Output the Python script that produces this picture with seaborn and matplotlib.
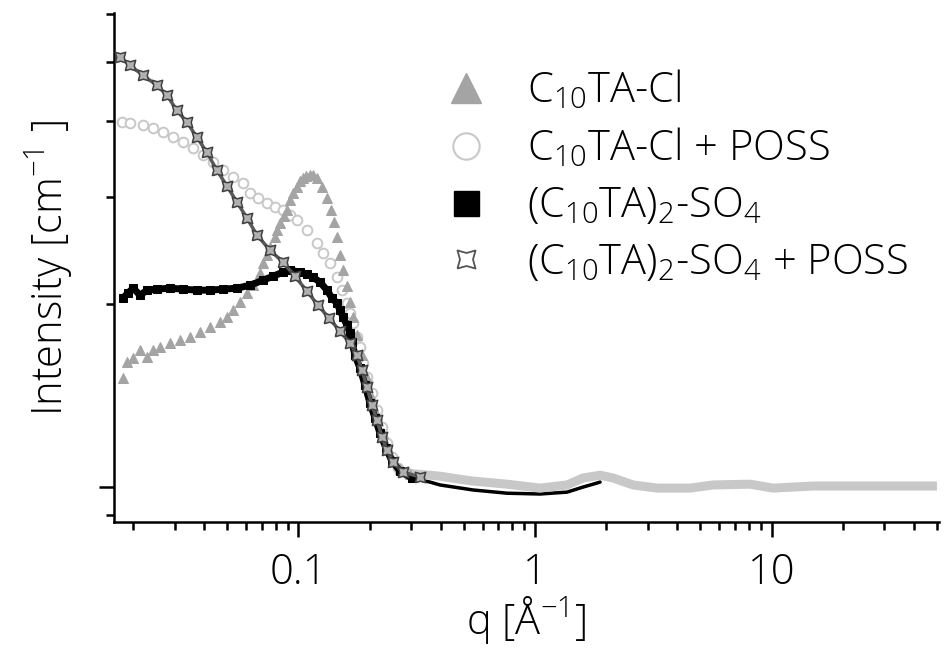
import matplotlib
matplotlib.use("Agg")
import matplotlib.pyplot as plt
from matplotlib.lines import Line2D
from matplotlib.ticker import FixedLocator, FixedFormatter, NullFormatter, LogLocator
import seaborn as sns

# values (q in 1/A, intensity on a log axis)
q_cl = [0.0181, 0.0188, 0.0200, 0.0214, 0.0229, 0.0243, 0.0260, 0.0286, 0.0316, 0.0348,
        0.0383, 0.0423, 0.0466, 0.0499, 0.0528, 0.0566, 0.0606, 0.0642, 0.0688, 0.0708,
        0.0736, 0.0758, 0.0795, 0.0811, 0.0835, 0.0869, 0.0894, 0.0921, 0.0948, 0.0986,
        0.1015, 0.1045, 0.1076, 0.1118, 0.1151, 0.1197, 0.1257, 0.1320, 0.1372, 0.1413,
        0.1455, 0.1498, 0.1542, 0.1603, 0.1651, 0.1700, 0.1768, 0.1856, 0.1948, 0.2045,
        0.2148, 0.2277, 0.2390, 0.2509, 0.2686, 0.2961]
i_cl = [1.511, 1.605, 1.630, 1.680, 1.636, 1.680, 1.699, 1.725, 1.745, 1.765,
        1.799, 1.833, 1.869, 1.904, 1.955, 2.015, 2.085, 2.149, 2.249, 2.336,
        2.407, 2.482, 2.578, 2.647, 2.718, 2.791, 2.855, 2.965, 3.044, 3.114,
        3.186, 3.223, 3.248, 3.260, 3.260, 3.223, 3.114, 2.988, 2.855, 2.729,
        2.578, 2.407, 2.275, 2.141, 2.015, 1.904, 1.778, 1.648, 1.511, 1.401,
        1.314, 1.227, 1.159, 1.108, 1.071, 1.050]

q_clp = [0.0179, 0.0194, 0.0220, 0.0243, 0.0267, 0.0295, 0.0325, 0.0358, 0.0395, 0.0435,
         0.0480, 0.0528, 0.0583, 0.0624, 0.0674, 0.0736, 0.0795, 0.0860, 0.0921, 0.0986,
         0.1086, 0.1197, 0.1269, 0.1359, 0.1455, 0.1527, 0.1603, 0.1651, 0.1700, 0.1768,
         0.1820, 0.1874, 0.1948, 0.2045, 0.2148, 0.2255, 0.2367, 0.2485, 0.2634, 0.2876]
i_clp = [3.984, 3.969, 3.939, 3.895, 3.836, 3.764, 3.693, 3.610, 3.516, 3.424,
         3.322, 3.236, 3.162, 3.044, 2.988, 2.932, 2.887, 2.855, 2.802, 2.749,
         2.647, 2.520, 2.426, 2.336, 2.215, 2.109, 2.007, 1.933, 1.862, 1.765,
         1.699, 1.599, 1.516, 1.427, 1.339, 1.255, 1.181, 1.120, 1.075, 1.054]
q_clp_tail = [0.2876, 0.3965, 0.4818, 0.5468, 0.7613, 1.050, 1.366, 1.596, 1.883, 2.137,
              2.597, 3.281, 4.523, 5.656, 8.11, 10.15, 14.98, 28.76, 50.0]
i_clp_tail = [1.054, 1.042, 1.030, 1.023, 1.011, 0.996, 1.008, 1.035, 1.046, 1.035,
              1.008, 0.996, 0.996, 1.008, 1.011, 0.996, 1.004, 1.004, 1.004]

q_so4 = [0.0181, 0.0190, 0.0200, 0.0214, 0.0229, 0.0252, 0.0286, 0.0325, 0.0372, 0.0423,
         0.0480, 0.0550, 0.0624, 0.0708, 0.0780, 0.0860, 0.0921, 0.1015, 0.1086, 0.1151,
         0.1233, 0.1320, 0.1386, 0.1455, 0.1498, 0.1542, 0.1603, 0.1651, 0.1683, 0.1733,
         0.1820, 0.1910, 0.2006, 0.2106, 0.2211, 0.2344, 0.2485, 0.2686, 0.3019]
i_so4 = [2.046, 2.085, 2.125, 2.069, 2.109, 2.117, 2.125, 2.117, 2.109, 2.109,
         2.117, 2.125, 2.149, 2.190, 2.223, 2.258, 2.275, 2.258, 2.240, 2.215,
         2.174, 2.109, 2.046, 2.007, 1.955, 1.904, 1.847, 1.792, 1.731, 1.648,
         1.569, 1.472, 1.375, 1.299, 1.227, 1.159, 1.104, 1.062, 1.035]
q_so4_tail = [0.3019, 0.3597, 0.3965, 0.5468, 0.7613, 1.050, 1.366, 1.596, 1.759, 1.883]
i_so4_tail = [1.035, 1.019, 1.008, 0.989, 0.977, 0.974, 0.981, 1.000, 1.011, 1.019]

q_so4p = [0.0176, 0.0194, 0.0220, 0.0252, 0.0278, 0.0306, 0.0338, 0.0372, 0.0410, 0.0452,
          0.0499, 0.0550, 0.0606, 0.0668, 0.0758, 0.0860, 0.0966, 0.1086, 0.1209, 0.1346,
          0.1498, 0.1651, 0.1768, 0.1856, 0.1948, 0.2045, 0.2148, 0.2255, 0.2367, 0.2509,
          0.2766, 0.3264]
i_so4p = [5.096, 4.944, 4.762, 4.584, 4.414, 4.170, 3.984, 3.764, 3.556, 3.322,
          3.127, 2.943, 2.770, 2.597, 2.454, 2.345, 2.223, 2.101, 1.992, 1.897,
          1.805, 1.725, 1.648, 1.557, 1.460, 1.364, 1.289, 1.208, 1.150, 1.099,
          1.058, 1.039]

labels = [r"C$_\mathregular{10}$TA-Cl",
          r"C$_\mathregular{10}$TA-Cl + POSS",
          r"(C$_\mathregular{10}$TA)$_\mathregular{2}$-SO$_\mathregular{4}$",
          r"(C$_\mathregular{10}$TA)$_\mathregular{2}$-SO$_\mathregular{4}$ + POSS"]

c_tri = "#a4a4a4"
c_circ = "#c8c8c8"
c_sq = "#000000"
c_star = "#555555"

# square with concave sides
star4 = [(-1, -1), (0, -0.72), (1, -1), (0.72, 0), (1, 1), (0, 0.72), (-1, 1), (-0.72, 0), (-1, -1)]

sns.set_theme(style="ticks")
plt.rcParams["font.family"] = ["Open Sans", "DejaVu Sans"]
plt.rcParams["font.weight"] = "light"
plt.rcParams["mathtext.fontset"] = "custom"
plt.rcParams["mathtext.rm"] = "Open Sans:light"
plt.rcParams["text.color"] = "black"
plt.rcParams["axes.labelcolor"] = "black"
plt.rcParams["axes.labelweight"] = "light"

fig = plt.figure(figsize=(9.46, 6.52), dpi=100)
ax = fig.add_axes([0.1205, 0.1994, 0.8721, 0.7807])

# high-q tails as thick lines
sns.lineplot(x=q_so4_tail, y=i_so4_tail, ax=ax, estimator=None, sort=False,
             color=c_sq, lw=2.5, zorder=2)
sns.lineplot(x=q_clp_tail, y=i_clp_tail, ax=ax, estimator=None, sort=False,
             color=c_circ, lw=6.5, zorder=3, solid_capstyle="butt")

# low-q markers
sns.lineplot(x=q_clp, y=i_clp, ax=ax, estimator=None, sort=False, lw=0,
             marker="o", ms=7, mfc="white", mec=c_circ, mew=1.4, zorder=4)
sns.lineplot(x=q_cl, y=i_cl, ax=ax, estimator=None, sort=False, lw=0,
             marker="^", ms=7, color=c_tri, mec=c_tri, zorder=5)
sns.lineplot(x=q_so4, y=i_so4, ax=ax, estimator=None, sort=False, lw=5,
             color=c_sq, marker="s", ms=6, mec=c_sq, zorder=6)
sns.lineplot(x=q_so4p, y=i_so4p, ax=ax, estimator=None, sort=False, lw=2.5,
             color="#5a5a5a", marker=star4, ms=7.5, mfc="#b0b0b0", mec="#404040", mew=1.1, zorder=7)

ax.set_xscale("log")
ax.set_yscale("log")
ax.set_xlim(0.0166, 51)
ax.set_ylim(0.876, 6.03)

ax.xaxis.set_major_locator(FixedLocator([0.1, 1, 10]))
ax.xaxis.set_major_formatter(FixedFormatter(["0.1", "1", "10"]))
ax.xaxis.set_minor_locator(LogLocator(base=10, subs=[2, 3, 4, 5, 6, 7, 8, 9]))
ax.xaxis.set_minor_formatter(NullFormatter())
ax.yaxis.set_major_locator(FixedLocator([1]))
ax.yaxis.set_major_formatter(NullFormatter())
ax.yaxis.set_minor_locator(FixedLocator([0.9, 2, 3, 4, 5, 6]))
ax.yaxis.set_minor_formatter(NullFormatter())

ax.tick_params(which="major", direction="out", length=11, width=1.8,
               labelsize=30, pad=10, colors="black")
ax.tick_params(which="minor", direction="out", length=5.5, width=1.8, colors="black")
sns.despine(ax=ax)
for s in ["left", "bottom"]:
    ax.spines[s].set_linewidth(1.8)
    ax.spines[s].set_color("black")

ax.set_xlabel(r"q [Å$^\mathregular{-1}$]", fontsize=30, labelpad=0)
ax.set_ylabel(r"Intensity [cm$^\mathregular{-1}$ ]", fontsize=30, labelpad=7)

handles = [
    Line2D([], [], ls="", marker="^", ms=22, color=c_tri),
    Line2D([], [], ls="", marker="o", ms=19, mfc="white", mec=c_circ, mew=1.5),
    Line2D([], [], ls="", marker="s", ms=18, color=c_sq),
    Line2D([], [], ls="", marker=star4, ms=13, mfc="none", mec=c_star, mew=1.3),
]
ax.legend(handles, labels, loc="upper left", bbox_to_anchor=(0.471, 0.895),
          bbox_transform=fig.transFigure, frameon=False, fontsize=30,
          handlelength=1.0, handletextpad=0.95, labelspacing=0.34,
          borderpad=0, borderaxespad=0)

fig.savefig("out.png", dpi=100)
